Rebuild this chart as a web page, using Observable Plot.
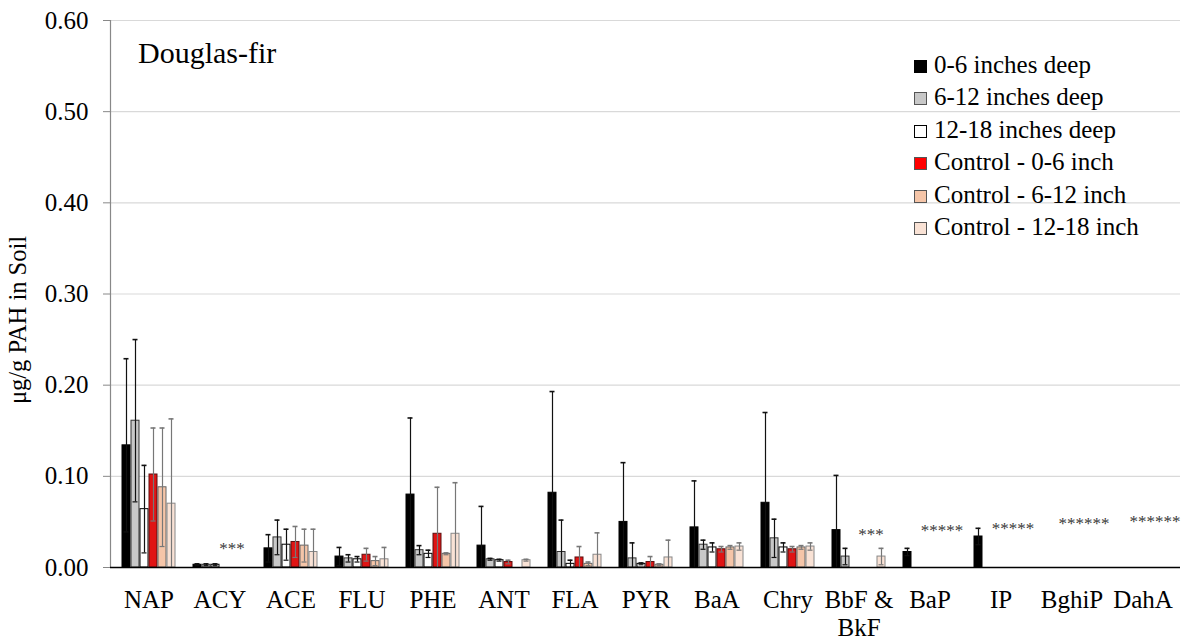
<!DOCTYPE html>
<html>
<head>
<meta charset="utf-8">
<script src="https://cdn.jsdelivr.net/npm/d3@7"></script>
<script src="https://cdn.jsdelivr.net/npm/@observablehq/plot@0.6"></script>
<style>
  body { margin: 0; background: #fff; }
  #wrap { position: relative; width: 1194px; height: 639px; font-family: "Liberation Serif", "Times New Roman", serif; }
  #bg, #fg, #base { position: absolute; left: 0; top: 0; }
  #title { position: absolute; left: 138px; top: 38px; font-size: 30px; line-height: 1; color: #000; }
  #ylab { position: absolute; left: 18px; top: 320px; transform: translate(-50%, -50%) rotate(-90deg); font-size: 24.5px; white-space: nowrap; }
  #legend { position: absolute; left: 914px; top: 49px; font-size: 25px; line-height: 32.4px; }
  #legend .row { display: flex; align-items: baseline; white-space: nowrap; }
  #legend .sw { display: inline-block; width: 11px; height: 11px; border: 1px solid #555; margin-right: 7px; }
</style>
</head>
<body>
<div id="wrap">
  <div id="bg"></div>
  <div id="fg"></div>
  <div id="base"></div>
  <div id="title">Douglas-fir</div>
  <div id="ylab">μg/g PAH in Soil</div>
  <div id="legend"></div>
</div>
<script>
const categories = ["NAP","ACY","ACE","FLU","PHE","ANT","FLA","PYR","BaA","Chry","BbF & BkF","BaP","IP","BghiP","DahA"];
const categoryLabels = ["NAP","ACY","ACE","FLU","PHE","ANT","FLA","PYR","BaA","Chry","BbF &\nBkF","BaP","IP","BghiP","DahA"];
const series = ["0-6 inches deep","6-12 inches deep","12-18 inches deep","Control - 0-6 inch","Control - 6-12 inch","Control - 12-18 inch"];

const depth0_6   = [0.134,0.003,0.021,0.012,0.080,0.024,0.082,0.050,0.044,0.071,0.041,0.017,0.034,null,null];
const depth6_12  = [0.161,0.003,0.033,0.010,0.019,0.009,0.017,0.010,0.025,0.032,0.012,null,null,null,null];
const depth12_18 = [0.064,0.003,0.025,0.009,0.015,0.008,0.004,0.004,0.022,0.022,null,null,null,null,null];
const ctrl0_6    = [0.102,null,0.028,0.014,0.037,0.006,0.011,0.006,0.020,0.020,null,null,null,null,null];
const ctrl6_12   = [0.088,null,0.024,0.007,0.015,null,0.004,0.003,0.022,0.022,null,null,null,null,null];
const ctrl12_18  = [0.070,null,0.017,0.009,0.037,0.008,0.014,0.011,0.023,0.023,0.012,null,null,null,null];

const err0_6   = [0.095,0.001,0.015,0.010,0.084,0.043,0.111,0.065,0.051,0.099,0.060,0.004,0.009,null,null];
const err6_12  = [0.089,0.001,0.019,0.004,0.005,0.001,0.035,0.017,0.005,0.021,0.009,null,null,null,null];
const err12_18 = [0.048,0.001,0.017,0.003,0.004,0.001,0.004,0.001,0.005,0.005,null,null,null,null,null];
const errC0_6  = [0.051,null,0.017,0.007,0.051,0.002,0.012,0.006,0.003,0.003,null,null,null,null,null];
const errC6_12 = [0.065,null,0.018,0.005,0.001,null,0.002,0.001,0.002,0.002,null,null,null,null,null];
const errC12_18= [0.093,null,0.025,0.013,0.056,0.001,0.024,0.019,0.004,0.004,0.009,null,null,null,null];

// "not detected" asterisk annotations
const noteCats   = ["ACY","BbF & BkF","BaP","IP","BghiP","DahA"];
const noteLabels = ["***","***","*****","*****","******","******"];
const noteY      = [0.021,0.036,0.040,0.043,0.048,0.050];

const yTicks = [0,0.1,0.2,0.3,0.4,0.5,0.6];

const fills   = ["#000000","#c8c8c8","#ffffff","#e01414","#f5c5a8","#f9e2d5"];
const strokes = ["#000000","#333333","#000000","#5a1010","#666666","#888888"];
const errStrokes = ["#111111","#111111","#111111","#777777","#777777","#777777"];

const values = [depth0_6, depth6_12, depth12_18, ctrl0_6, ctrl6_12, ctrl12_18];
const errs = [err0_6, err6_12, err12_18, errC0_6, errC6_12, errC12_18];

const rows = [];
categories.forEach((c, i) => {
  series.forEach((s, j) => {
    const v = values[j][i];
    if (v == null) return;
    const e = errs[j][i] ?? 0;
    rows.push({cat: c, series: s, value: v, lo: Math.max(0, v - e), hi: v + e, si: j});
  });
});
const notes = noteCats.map((c, i) => ({cat: c, label: noteLabels[i], y: noteY[i]}));
const labelOf = new Map(categories.map((c, i) => [c, categoryLabels[i]]));

const common = {
  width: 1194,
  height: 639,
  marginLeft: 110,
  marginRight: 14,
  marginTop: 20,
  marginBottom: 72,
  style: {fontFamily: "Liberation Serif, Times New Roman, serif", fontSize: "25px", color: "#000", background: "transparent", overflow: "visible"}
};

// background: grid and y axis
const bg = Plot.plot({
  ...common,
  y: {domain: [0, 0.6], label: null},
  marks: [
    Plot.ruleY(yTicks.filter(d => d > 0), {stroke: "#d9d9d9", strokeWidth: 1.2}),
    Plot.frame({anchor: "left", stroke: "#888", strokeWidth: 1.2}),
    Plot.axisY({ticks: yTicks, tickFormat: d3.format(".2f"), tickSize: 7, tickPadding: 15, stroke: "#888", label: null})
  ]
});
document.getElementById("bg").appendChild(bg);

// foreground: grouped bars with error bars
const fg = Plot.plot({
  ...common,
  y: {domain: [0, 0.6], label: null, axis: null},
  fx: {domain: categories, paddingInner: 0.2, paddingOuter: 0.1, label: null},
  x: {domain: series, padding: 0.1, axis: null},
  marks: [
    Plot.barY(rows, {fx: "cat", x: "series", y: "value", fill: d => fills[d.si], stroke: d => strokes[d.si], strokeWidth: 1}),
    Plot.ruleX(rows, {fx: "cat", x: "series", y1: "lo", y2: "hi", stroke: d => errStrokes[d.si], strokeWidth: 1.2}),
    Plot.tickY(rows, {fx: "cat", x: "series", y: "hi", stroke: d => errStrokes[d.si], strokeWidth: 1.6, insetLeft: 1.5, insetRight: 1.5}),
    Plot.tickY(rows.filter(d => d.lo > 0.0015), {fx: "cat", x: "series", y: "lo", stroke: d => errStrokes[d.si], strokeWidth: 1.2, insetLeft: 1.5, insetRight: 1.5}),
    Plot.text(notes, {fx: "cat", y: "y", text: "label", frameAnchor: "middle", dx: 12, fontSize: 17, fill: "#383838", fontFamily: "Liberation Serif"}),
    Plot.axisFx({anchor: "bottom", tickSize: 0, tickPadding: 21, tickFormat: d => labelOf.get(d), lineHeight: 1.1, label: null})
  ]
});
document.getElementById("fg").appendChild(fg);

// x baseline on top of bars
const base = Plot.plot({
  ...common,
  y: {domain: [0, 0.6], label: null, axis: null},
  marks: [Plot.ruleY([0], {stroke: "#000", strokeWidth: 1.5})]
});
document.getElementById("base").appendChild(base);

const legend = document.getElementById("legend");
series.forEach((s, j) => {
  const row = document.createElement("div");
  row.className = "row";
  const sw = document.createElement("span");
  sw.className = "sw";
  sw.style.background = j === 3 ? "#ff0000" : fills[j];
  sw.style.borderColor = strokes[j] === "#000000" ? "#000" : "#555";
  const t = document.createElement("span");
  t.textContent = s;
  row.appendChild(sw); row.appendChild(t);
  legend.appendChild(row);
});
</script>
</body>
</html>
